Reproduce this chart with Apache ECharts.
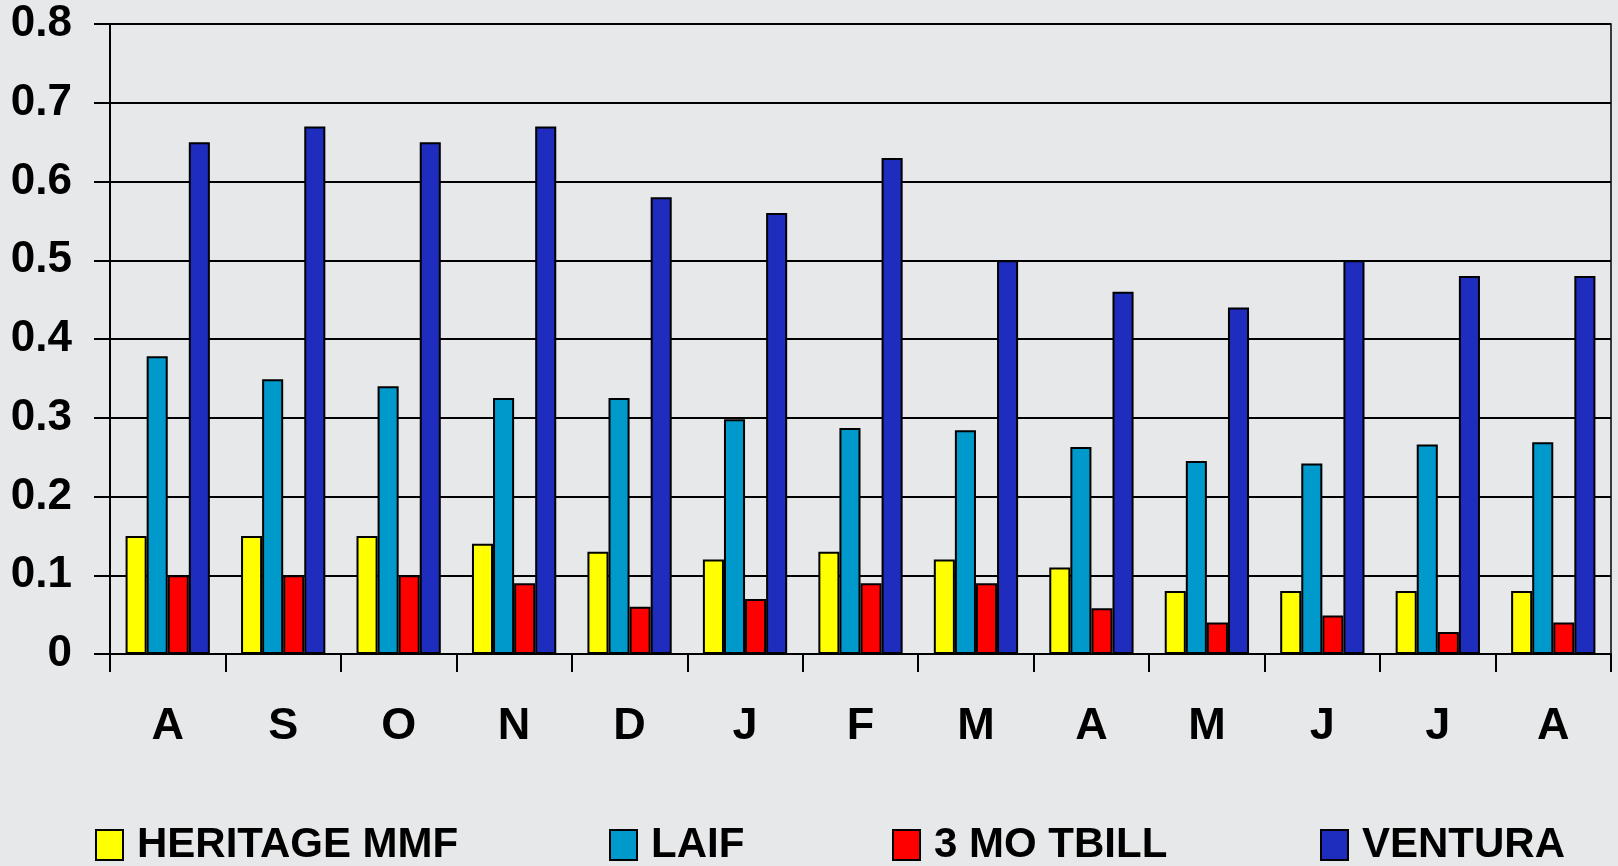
<!DOCTYPE html>
<html>
<head>
<meta charset="utf-8">
<script src="https://cdn.jsdelivr.net/npm/echarts@6/dist/echarts.min.js"></script>
<style>
html,body{margin:0;padding:0;background:#e7e8ea;}
#c{width:1618px;height:866px;}
</style>
</head>
<body>
<div id="c"></div>
<script>
const categories = ['A','S','O','N','D','J','F','M','A','M','J','J','A'];
const seriesNames = ['HERITAGE MMF','LAIF','3 MO TBILL','VENTURA'];
const heritage = [0.15,0.15,0.15,0.14,0.13,0.12,0.13,0.12,0.11,0.08,0.08,0.08,0.08];
const laif = [0.378,0.349,0.340,0.325,0.325,0.298,0.287,0.284,0.263,0.245,0.242,0.266,0.269];
const tbill = [0.10,0.10,0.10,0.09,0.06,0.07,0.09,0.09,0.058,0.04,0.049,0.028,0.04];
const ventura = [0.65,0.67,0.65,0.67,0.58,0.56,0.63,0.50,0.46,0.44,0.50,0.48,0.48];
const yTicks = ['0','0.1','0.2','0.3','0.4','0.5','0.6','0.7','0.8'];

const colors = ['#FFFF00','#0099CC','#FF0000','#1F2DBE'];
const values = [heritage, laif, tbill, ventura];
const font = "'Liberation Sans', Arial, sans-serif";
const legendLefts = [95, 609, 892, 1320];

const chart = echarts.init(document.getElementById('c'), null, {renderer:'canvas'});
chart.setOption({
  backgroundColor: 'transparent',
  animation: false,
  grid: {left:110, right:7, top:24, bottom:212, show:true, borderColor:'#000', borderWidth:1.5, backgroundColor:'transparent'},
  xAxis: {
    type:'category',
    data: categories,
    axisLine:{lineStyle:{color:'#000', width:2}},
    axisTick:{show:true, length:18, lineStyle:{color:'#000', width:2}},
    axisLabel:{color:'#000', fontSize:45, fontWeight:'bold', fontFamily:font, margin:50}
  },
  yAxis: {
    type:'value', min:0, max:0.8, interval:0.1,
    axisLine:{show:true, lineStyle:{color:'#000', width:2}},
    axisTick:{show:true, length:16, lineStyle:{color:'#000', width:2}},
    splitLine:{show:true, lineStyle:{color:'#000', width:1.8}},
    axisLabel:{color:'#000', fontSize:44, fontWeight:'bold', fontFamily:font, margin:38,
      formatter:(v)=>yTicks[Math.round(v*10)]}
  },
  legend: seriesNames.map((n,i)=>({
    data:[n], left:legendLefts[i], top:824, padding:0,
    itemWidth:27, itemHeight:30, icon:'rect',
    textStyle:{color:'#000', fontSize:42, fontWeight:'bold', fontFamily:font, padding:[0,0,0,9]}
  })),
  series: seriesNames.map((n,i)=>({
    name:n, type:'bar', data:values[i],
    barGap:'0%', barCategoryGap:'27%',
    itemStyle:{color:colors[i], borderColor:'#000', borderWidth:2}
  }))
});
</script>
</body>
</html>
